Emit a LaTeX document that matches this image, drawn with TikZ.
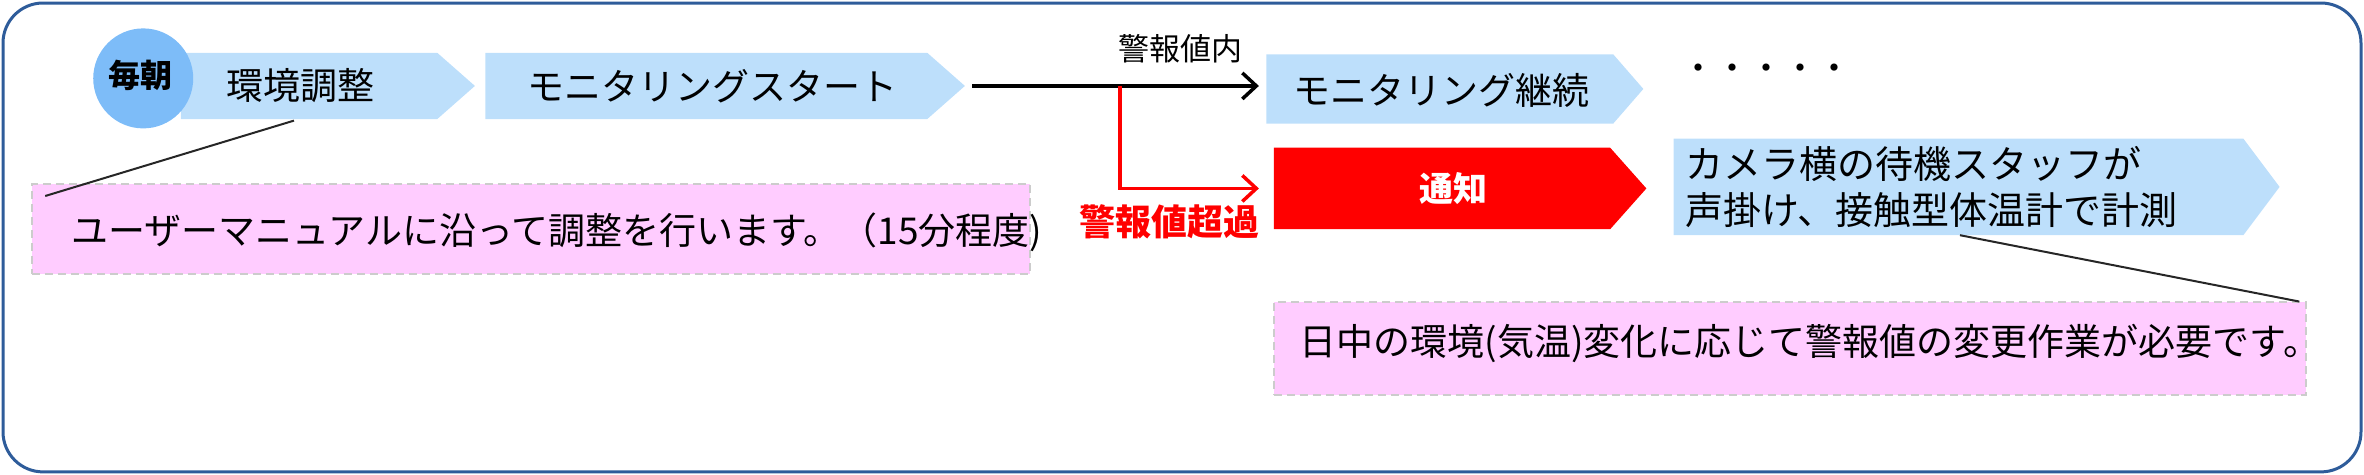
\documentclass[tikz,border=0pt]{standalone}
\usepackage{fontspec}
\setmainfont{Noto Sans CJK JP}
\usetikzlibrary{arrows.meta,shapes.geometric}
\definecolor{lb}{HTML}{BDDFFB}
\definecolor{pk}{HTML}{FFCCFF}
\definecolor{cb}{HTML}{7DBCF8}
\definecolor{fr}{HTML}{2E5C9A}
\tikzset{x=1.5077pt,y=-1.5077pt,
  txt/.style={font=\fontsize{37}{44}\selectfont,anchor=west,inner sep=0},
  pinkbox/.style={fill=pk,draw=black!20,dashed,line width=2pt,dash pattern=on 8pt off 5pt},
  chev/.style={fill=lb,draw=none}}
\begin{document}
\begin{tikzpicture}
\useasboundingbox (0,0) rectangle (1568,315);
\draw[fr,line width=3pt,rounded corners=40pt] (2,2) rectangle (1566,313);
% chevrons
\fill[lb] (120,35) -- (290,35) -- (315,57) -- (290,79) -- (120,79) -- cycle;
\node[circle,fill=cb,minimum size=100pt,inner sep=0] (cir) at (95,52) {};
\node[font=\bfseries\fontsize{32}{36}\selectfont] (mai) at (93,50) {毎朝};
\node[txt] (c1) at (150,57) {環境調整};
\fill[lb] (322,35) -- (615,35) -- (640,57) -- (615,79) -- (322,79) -- cycle;
\node[txt] (c2) at (350,57) {モニタリングスタート};
\coordinate (a0) at (645,57);
\fill[lb] (840,36) -- (1070,36) -- (1090,59) -- (1070,82) -- (840,82) -- cycle;
\node[txt] (c3) at (858,60) {モニタリング継続};
\node[font=\fontsize{34}{40}\selectfont] (dots) at (1172,48) {・・・・・};
\coordinate (a1) at (835,57);
\draw[line width=3.5pt,-{Straight Barb[length=14pt,width=26pt]}] (a0) -- (a1);
\node[font=\fontsize{31}{36}\selectfont] (wn) at (783,32) {警報値内};
% red branch
\coordinate (b0) at (743,57);
\coordinate (b1) at (743,125);
\coordinate (b2) at (835,125);
\draw[red,line width=3.5pt,-{Straight Barb[length=14pt,width=26pt]}] (b0) -- (b1) -- (b2);
\node[red,font=\bfseries\fontsize{36}{40}\selectfont] (ov) at (776,147) {警報値超過};
\fill[red] (845,98) -- (1068,98) -- (1092,125) -- (1068,152) -- (845,152) -- cycle;
\node[white,font=\bfseries\fontsize{34}{40}\selectfont] (tz) at (964,125) {通知};
\fill[lb] (1110,92) -- (1488,92) -- (1512,124) -- (1488,156) -- (1110,156) -- cycle;
\node[txt,align=left,font=\fontsize{38}{46}\selectfont] (c4) at (1118,124) {カメラ横の待機スタッフが\\声掛け、接触型体温計で計測};
% notes
\node[pinkbox,minimum width=998pt,minimum height=90pt,inner sep=0] (n1) at (352,152) {};
\node[txt] (t1) at (47,154) {ユーザーマニュアルに沿って調整を行います。（15分程度)};
\coordinate (l1a) at (195,80);
\coordinate (l1b) at (30,130);
\draw[line width=2pt,black!85] (l1a) -- (l1b);
\node[pinkbox,minimum width=1032pt,minimum height=93pt,inner sep=0] (n2) at (1187,231) {};
\node[txt] (t2) at (862,228) {日中の環境(気温)変化に応じて警報値の変更作業が必要です。};
\coordinate (l2a) at (1300,156);
\coordinate (l2b) at (1525,200);
\draw[line width=2pt,black!85] (l2a) -- (l2b);
\end{tikzpicture}
\end{document}
